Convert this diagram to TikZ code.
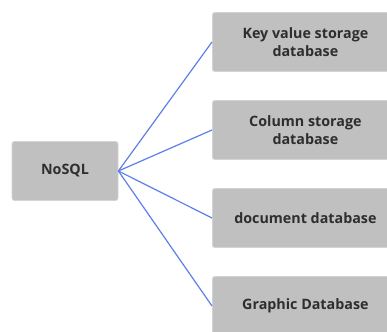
\documentclass[tikz,border=0pt]{standalone}
\usepackage{fontspec}
\setmainfont{Open Sans}
\usepackage{tikz}
\usetikzlibrary{positioning}
\definecolor{boxgray}{HTML}{C0C0C0}
\definecolor{edgegray}{HTML}{D4D4D4}
\definecolor{txtgray}{HTML}{2E2E2E}
\definecolor{linkblue}{HTML}{5F7FE8}

\begin{document}
\begin{tikzpicture}[x=1pt,y=-1pt,
  dbbox/.style={draw=edgegray,line width=0.8pt,fill=boxgray,rounded corners=2.5pt,
    text=txtgray,font=\fontsize{14.3}{18}\selectfont\bfseries,align=center,
    inner sep=0pt,minimum height=59pt},
  link/.style={draw=linkblue,line width=1.2pt}]
\useasboundingbox[fill=white] (0,0) rectangle (387,331);
\node[dbbox,minimum width=106pt] (nosql) at (65,171) {NoSQL};
\node[dbbox,minimum width=186pt,anchor=west] (kv) at (212,42) {Key value storage\\database};
\node[dbbox,minimum width=186pt,anchor=west] (col) at (212,130) {Column storage\\database};
\node[dbbox,minimum width=186pt,anchor=west] (doc) at (212,218) {document database};
\node[dbbox,minimum width=186pt,anchor=west] (graph) at (212,306) {Graphic Database};
\draw[link] (nosql.east) -- (kv.west);
\draw[link] (nosql.east) -- (col.west);
\draw[link] (nosql.east) -- (doc.west);
\draw[link] (nosql.east) -- (graph.west);
\end{tikzpicture}
\end{document}
